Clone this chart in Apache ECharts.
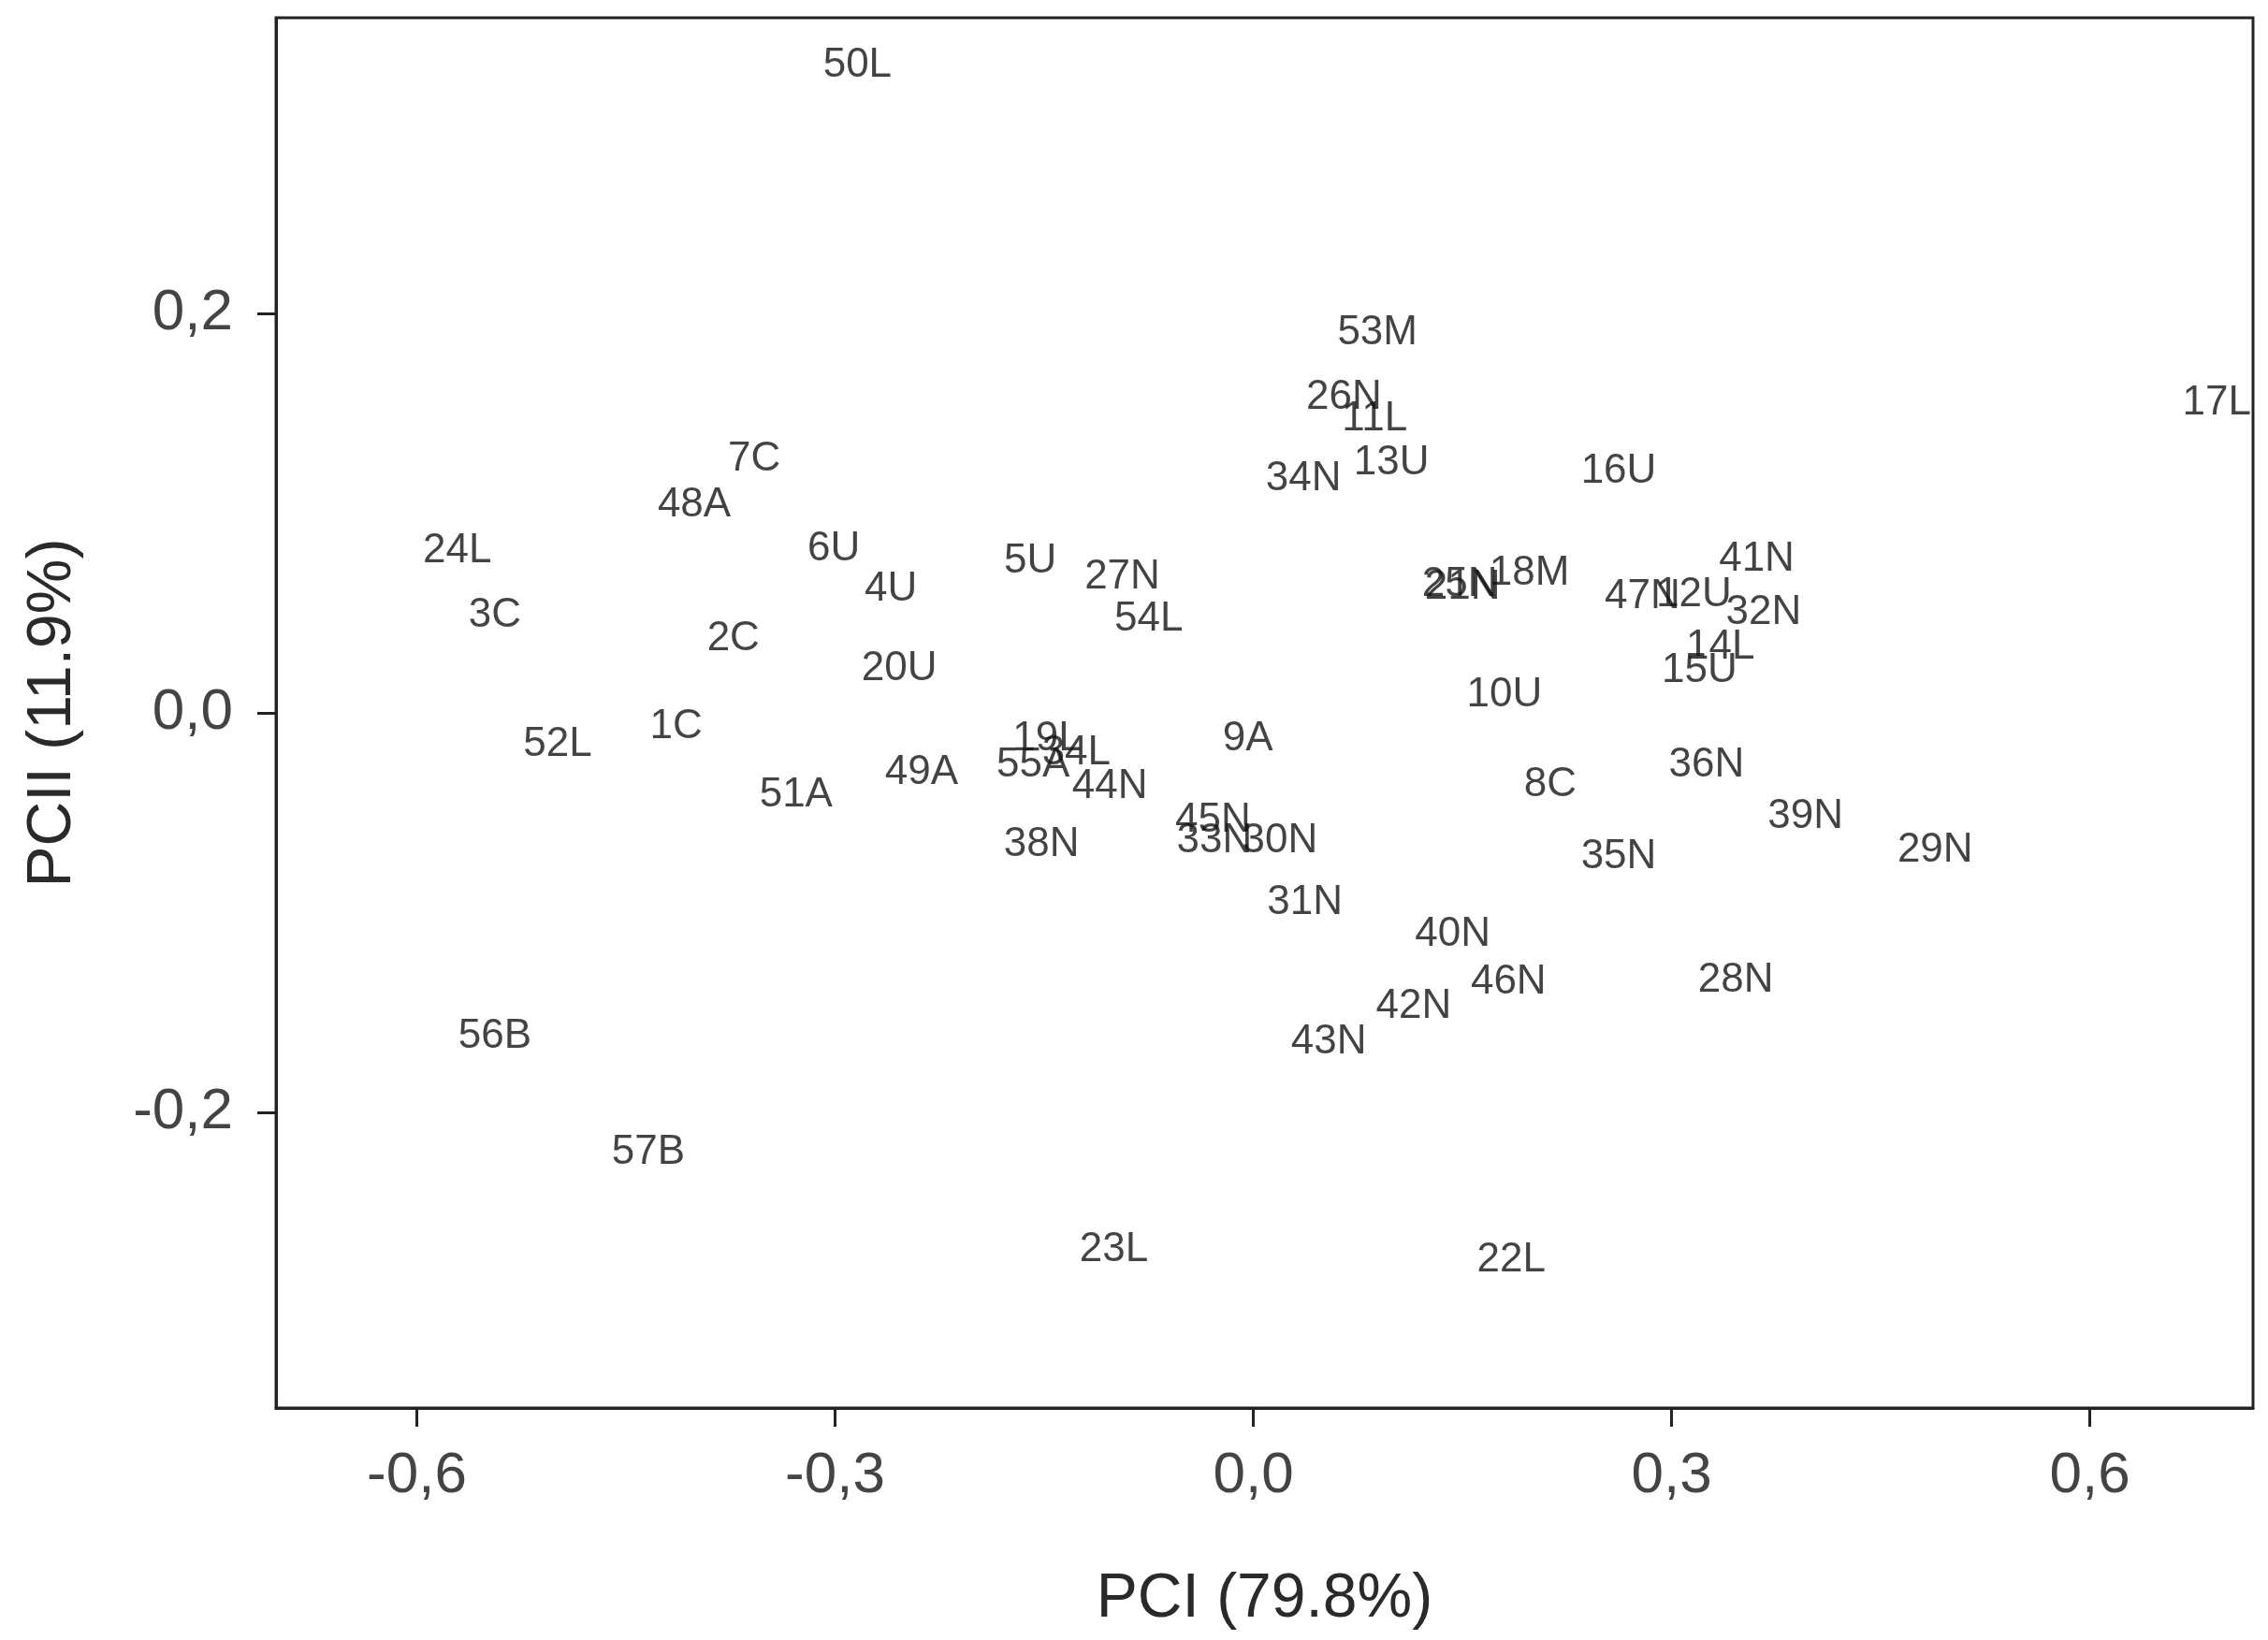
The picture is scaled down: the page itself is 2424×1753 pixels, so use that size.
<!DOCTYPE html>
<html>
<head>
<meta charset="utf-8">
<style>
html,body{margin:0;padding:0;background:#fff;}
#chart{width:2424px;height:1753px;}
</style>
<script src="https://cdn.jsdelivr.net/npm/echarts@6/dist/echarts.min.js"></script>
</head>
<body>
<div id="chart"></div>
<script>
// Sample labels and their principal component scores
var names = ['50L','53M','26N','11L','13U','34N','16U','17L','7C','48A','24L','3C','6U','4U','5U','27N','54L','2C','20U','25N','21N','18M','47N','12U','41N','32N','14L','15U','10U','1C','52L','9A','19L','34L','55A','44N','49A','51A','8C','36N','39N','29N','35N','45N','33N','30N','38N','31N','40N','46N','28N','42N','43N','56B','57B','23L','22L'];
var pc1 = [-0.284,0.089,0.065,0.087,0.099,0.036,0.262,0.691,-0.358,-0.401,-0.571,-0.544,-0.301,-0.260,-0.160,-0.094,-0.075,-0.373,-0.254,0.148,0.150,0.198,0.279,0.316,0.361,0.366,0.335,0.320,0.180,-0.414,-0.499,-0.004,-0.148,-0.127,-0.158,-0.103,-0.238,-0.328,0.213,0.325,0.396,0.489,0.262,-0.029,-0.028,0.019,-0.152,0.037,0.143,0.183,0.346,0.115,0.054,-0.544,-0.434,-0.100,0.185];
var pc2 = [0.324,0.190,0.158,0.147,0.125,0.117,0.121,0.155,0.127,0.104,0.081,0.049,0.082,0.062,0.076,0.068,0.047,0.037,0.022,0.064,0.063,0.070,0.058,0.059,0.077,0.050,0.033,0.021,0.009,-0.007,-0.016,-0.013,-0.013,-0.020,-0.026,-0.037,-0.030,-0.041,-0.036,-0.026,-0.052,-0.069,-0.072,-0.054,-0.064,-0.064,-0.066,-0.095,-0.111,-0.135,-0.134,-0.147,-0.165,-0.162,-0.220,-0.269,-0.274];
var xTicks = [-0.6,-0.3,0.0,0.3,0.6];
var yTicks = [-0.2,0.0,0.2];
var xTitle = 'PCI (79.8%)';
var yTitle = 'PCII (11.9%)';

function fmt(v){ return v.toFixed(1).replace('.', ','); }

var data = names.map(function(n,i){ return {name:n, value:[pc1[i], pc2[i]]}; });

var chart = echarts.init(document.getElementById('chart'), null, {renderer:'canvas'});
var tickFont = {fontFamily:'"Liberation Sans Narrow","Liberation Sans",Arial,sans-serif', fontSize:62, color:'#444'};
chart.setOption({
  animation:false,
  backgroundColor:'#fff',
  grid:{left:295, right:16, top:19, bottom:248, show:true, borderColor:'#222', borderWidth:3, containLabel:false},
  xAxis:{
    type:'value', min:-0.701, max:0.717,
    name:xTitle, nameLocation:'middle', nameGap:172,
    nameTextStyle:{fontFamily:'"Liberation Sans",Arial,sans-serif', fontSize:66, color:'#2a2a2a'},
    axisLine:{show:true, onZero:false, lineStyle:{color:'#222', width:3}},
    axisTick:{show:true, length:20, inside:false, customValues:xTicks, lineStyle:{color:'#222', width:3}},
    axisLabel:Object.assign({show:true, margin:42, customValues:xTicks, formatter:function(v){return fmt(v);}}, tickFont),
    splitLine:{show:false}
  },
  yAxis:{
    type:'value', min:-0.348, max:0.348,
    name:yTitle, nameLocation:'middle', nameGap:205, nameRotate:90,
    nameTextStyle:{fontFamily:'"Liberation Sans",Arial,sans-serif', fontSize:66, color:'#2a2a2a'},
    axisLine:{show:true, onZero:false, lineStyle:{color:'#222', width:3}},
    axisTick:{show:true, length:20, inside:false, customValues:yTicks, lineStyle:{color:'#222', width:3}},
    axisLabel:Object.assign({show:true, margin:46, customValues:yTicks, formatter:function(v){return fmt(v);}}, tickFont),
    splitLine:{show:false}
  },
  series:[{
    type:'scatter',
    data:data,
    symbolSize:1,
    itemStyle:{color:'rgba(0,0,0,0)'},
    label:{show:true, position:'inside', offset:[3,5], formatter:'{b}', color:'#141414',
      fontFamily:'"Liberation Sans Narrow","Liberation Sans",Arial,sans-serif', fontSize:44},
    labelLayout:{hideOverlap:false},
    clip:false
  }]
});
</script>
</body>
</html>
